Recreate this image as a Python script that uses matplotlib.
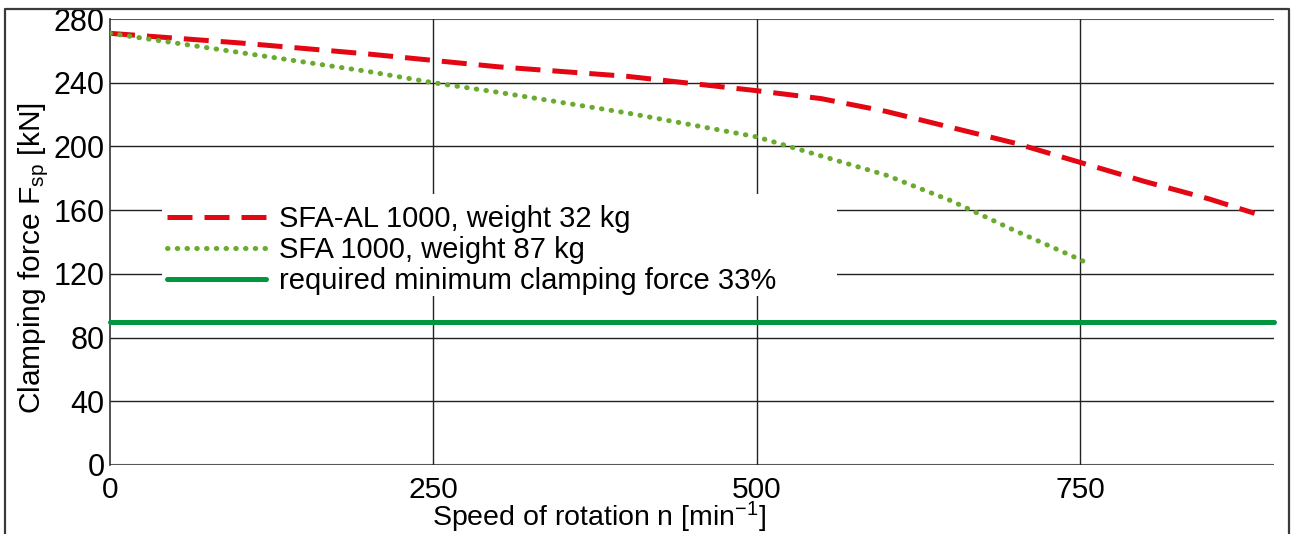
import matplotlib
matplotlib.use("Agg")
import matplotlib.pyplot as plt
from matplotlib.lines import Line2D
from matplotlib.patches import Rectangle

# Data
speed_al = [0, 100, 200, 300, 400, 500, 550, 600, 650, 700, 750, 800, 850, 885]
force_al = [271, 265, 258, 250, 244, 235, 230, 222, 212, 202, 190, 178, 167, 158]

speed_sfa = [0, 100, 200, 250, 300, 400, 500, 550, 600, 650, 700, 750, 757]
force_sfa = [271, 259, 247, 240, 234, 221, 206, 194, 182, 166, 147, 129, 126]

min_force = 89.76   # 33% of 272 kN

labels = ["SFA-AL 1000, weight 32 kg",
          "SFA 1000, weight 87 kg",
          "required minimum clamping force 33%"]

yticks = [0, 40, 80, 120, 160, 200, 240, 280]
xticks = [0, 250, 500, 750]

RED = "#e30613"
LIGHTGREEN = "#6aaa2e"
GREEN = "#009640"

plt.rcParams['font.family'] = ['Liberation Sans', 'DejaVu Sans']
plt.rcParams['mathtext.fontset'] = 'custom'
plt.rcParams['mathtext.rm'] = 'Liberation Sans'
plt.rcParams['mathtext.it'] = 'Liberation Sans:italic'

W, H = 1293, 534
fig = plt.figure(figsize=(W / 100, H / 100), dpi=100)
# axes box in pixels: x 110..1274, y 19..465
ax = fig.add_axes([110 / W, 1 - 465 / H, (1274 - 110) / W, (465 - 19) / H])

# outer frame (top, left, right)
fx0, fx1, fy1 = 4.5 / W, 1289 / W, 1 - 8.5 / H
fig.add_artist(Line2D([fx0, fx0, fx1, fx1], [0, fy1, fy1, 0], color="#3a3a3a", lw=1.6,
                      transform=fig.transFigure))

ax.set_xlim(0, 900)
ax.set_ylim(0, 280)
ax.set_xticks(xticks)
ax.set_yticks(yticks)
ax.tick_params(length=0, labelsize=22, pad=4)
ax.tick_params(axis='x', labelsize=21.5, pad=8)

for s in ['top', 'right', 'bottom']:
    ax.spines[s].set_visible(False)
ax.spines['left'].set_color('#333333')
ax.spines['left'].set_linewidth(1.2)

# grid
for y in yticks:
    edge = y in (0, 280)
    ax.axhline(y, color='#555555' if edge else '#222222', lw=1.5 if edge else 1.0, zorder=1)
for x in xticks[1:]:
    ax.axvline(x, color='#222222', lw=1.0, zorder=1)

ax.plot(speed_al, force_al, color=RED, lw=3.6, dashes=(5, 2.4), label=labels[0], zorder=3)
ax.plot(speed_sfa, force_sfa, color=LIGHTGREEN, lw=3.6, dashes=(0.1, 1.85),
        dash_capstyle='round', label=labels[1], zorder=3)
ax.plot([0, 900], [min_force, min_force], color=GREEN, lw=3.6, solid_capstyle='round',
        label=labels[2], zorder=3, clip_on=False)

# white patch behind the legend, cutting the grid
ax.add_patch(Rectangle((0.0447, 0.3790), 0.5799, 0.2287, transform=ax.transAxes,
                       facecolor='white', edgecolor='none', zorder=2))
leg = ax.legend(loc='center left', bbox_to_anchor=(0.0490, 0.4821), fontsize=21,
                frameon=False, handlelength=3.4, handletextpad=0.45, labelspacing=0.1,
                borderpad=0, borderaxespad=0)
leg.set_zorder(4)

ax.set_ylabel("Clamping force F$_{\\mathrm{sp}}$ [kN]", fontsize=21.5)
ax.yaxis.set_label_coords(-0.051, 0.464)
ax.set_xlabel("Speed of rotation n [min$^{\\mathrm{-1}}$]", fontsize=20.5, va='baseline')
ax.xaxis.set_label_coords(0.42, -0.137)

fig.savefig("out.png", dpi=100)
